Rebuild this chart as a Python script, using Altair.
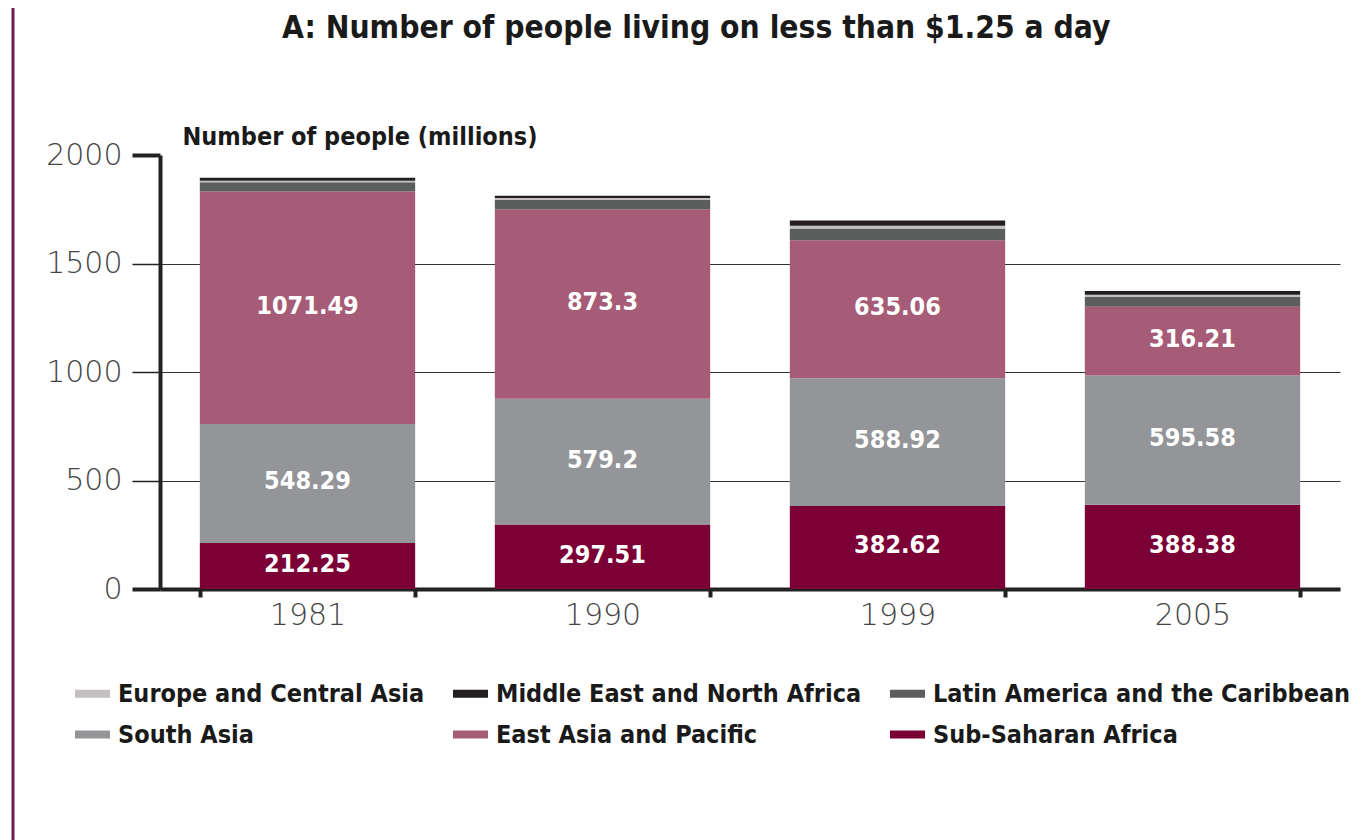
import altair as alt
import pandas as pd

years = ["1981", "1990", "1999", "2005"]
regions = [
    "Sub-Saharan Africa",
    "South Asia",
    "East Asia and Pacific",
    "Latin America and the Caribbean",
    "Europe and Central Asia",
    "Middle East and North Africa",
]
sub_saharan_africa = [212.25, 297.51, 382.62, 388.38]
south_asia = [548.29, 579.2, 588.92, 595.58]
east_asia_pacific = [1071.49, 873.3, 635.06, 316.21]
latin_america = [42.0, 42.9, 54.8, 45.1]
europe_central_asia = [7.1, 9.1, 12.0, 11.0]
middle_east_n_africa = [13.7, 9.7, 24.3, 17.3]
labelled = ["Sub-Saharan Africa", "South Asia", "East Asia and Pacific"]

legend_order = [
    "Europe and Central Asia",
    "Middle East and North Africa",
    "Latin America and the Caribbean",
    "South Asia",
    "East Asia and Pacific",
    "Sub-Saharan Africa",
]
legend_colors = ["#c4bfc2", "#231f20", "#5c5d5d", "#939598", "#a65c76", "#7a0036"]

series = [sub_saharan_africa, south_asia, east_asia_pacific,
          latin_america, europe_central_asia, middle_east_n_africa]
rows = []
for ri, (reg, vals) in enumerate(zip(regions, series)):
    for y, v in zip(years, vals):
        rows.append({"year": y, "region": reg, "value": v, "ord": ri,
                     "label": f"{v:g}" if reg in labelled else ""})
df = pd.DataFrame(rows)

NARROW = "Liberation Sans Narrow, DejaVu Sans Condensed, sans-serif"

x_enc = alt.X("year:N", sort=years, title=None,
              scale=alt.Scale(paddingInner=0.27, paddingOuter=0.135),
              axis=alt.Axis(labelAngle=0, tickBand="extent", tickSize=8, tickWidth=4,
                            tickColor="#222", domainColor="#222", domainWidth=4,
                            labelFont="DejaVu Sans", labelFontSize=30, labelColor="#444",
                            labelFontWeight=300, labelPadding=3))

bars = alt.Chart(df).mark_bar().encode(
    x=x_enc,
    y=alt.Y("value:Q", stack="zero",
            scale=alt.Scale(domain=[0, 2000], nice=False),
            axis=alt.Axis(values=[0, 500, 1000, 1500, 2000], format="d", grid=True,
                          gridColor="#333", gridWidth=1,
                          gridOpacity={"condition": {"test": "datum.value === 2000", "value": 0}, "value": 1},
                          tickSize=28, tickColor="#222",
                          tickWidth={"condition": {"test": "datum.value === 0 || datum.value === 2000", "value": 4}, "value": 1.5},
                          domainColor="#222", domainWidth=4,
                          labelFont="DejaVu Sans", labelFontSize=30, labelColor="#444",
                          labelFontWeight=300, labelPadding=10,
                          title="Number of people (millions)", titleAngle=0,
                          titleAlign="left", titleBaseline="bottom", titleX=22, titleY=-6,
                          titleFont=NARROW, titleFontSize=25, titleFontWeight="bold",
                          titleColor="#1a1a1a")),
    color=alt.Color("region:N",
                    scale=alt.Scale(domain=legend_order, range=legend_colors),
                    legend=alt.Legend(title=None, orient="none", legendX=-85, legendY=521,
                                      columns=3, direction="horizontal",
                                      columnPadding=28, rowPadding=10,
                                      symbolType="M-1,-0.23H1V0.23H-1Z", symbolSize=1225,
                                      symbolStrokeWidth=0, labelOffset=8,
                                      labelFont=NARROW, labelFontSize=25,
                                      labelFontWeight="bold", labelColor="#1a1a1a",
                                      labelLimit=500)),
    order=alt.Order("ord:Q", sort="ascending"),
)

labels = alt.Chart(df).transform_stack(
    stack="value", groupby=["year"], as_=["v0", "v1"],
    sort=[alt.SortField("ord", order="ascending")]
).transform_calculate(
    mid="(datum.v0 + datum.v1) / 2"
).transform_filter(
    "datum.label !== ''"
).mark_text(color="white", font=NARROW, fontSize=25, fontWeight="bold",
            baseline="middle", dy=-2).encode(
    x=alt.X("year:N", sort=years),
    y=alt.Y("mid:Q"),
    text="label:N",
)

border = alt.Chart(pd.DataFrame({"a": [0]})).mark_rule(
    color="#6e1b4f", strokeWidth=3
).encode(x=alt.value(-147), y=alt.value(-147), y2=alt.value(690))

chart = alt.layer(bars, labels, border).properties(
    width=1180, height=434,
    autosize=alt.AutoSizeParams(type="none"),
    padding={"left": 152, "top": 147, "right": 18, "bottom": 251},
    title=alt.Title("A: Number of people living on less than $1.25 a day",
                    anchor="start", frame="group", dx=122, offset=0, dy=38,
                    font="DejaVu Sans Condensed", fontSize=31.5, fontWeight="bold",
                    color="#1a1a1a"),
).configure_view(stroke=None)

chart.save("out.html", embed_options={"renderer": "svg", "actions": False})
